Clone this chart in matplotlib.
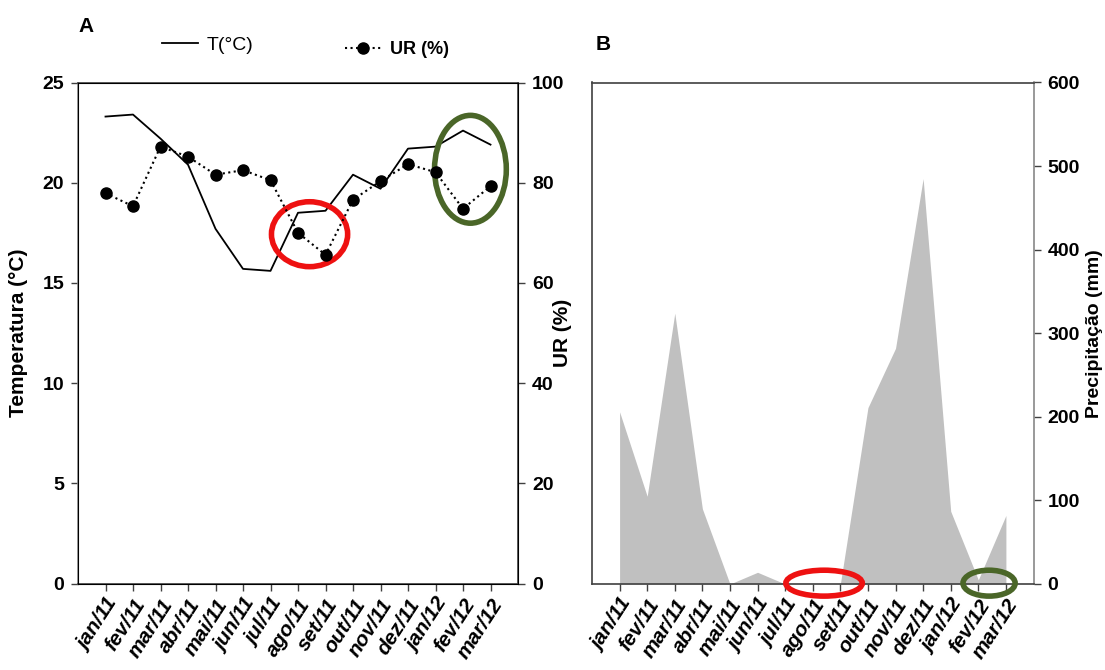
import matplotlib
matplotlib.use("Agg")
import matplotlib.pyplot as plt
from matplotlib.patches import Ellipse
from matplotlib.lines import Line2D

plt.rcParams['font.family'] = ['Liberation Sans', 'DejaVu Sans']

# dados
meses = ['jan/11', 'fev/11', 'mar/11', 'abr/11', 'mai/11', 'jun/11', 'jul/11', 'ago/11',
         'set/11', 'out/11', 'nov/11', 'dez/11', 'jan/12', 'fev/12', 'mar/12']
temperatura = [23.3, 23.4, 22.2, 20.9, 17.7, 15.7, 15.6, 18.5, 18.6, 20.4, 19.7, 21.7, 21.8, 22.6, 21.9]
umidade = [77.9, 75.3, 87.2, 85.2, 81.6, 82.5, 80.5, 70.0, 65.6, 76.6, 80.3, 83.7, 82.1, 74.8, 79.3]
precipitacao = [206, 105, 324, 90, 0, 14, 0, 0, 0, 211, 282, 485, 87, 5, 82]

# elipses de destaque: (x, y, largura, altura, cor)
destaques_A = [(7.42, 17.43, 2.77, 3.24, '#ee1111'), (13.27, 20.67, 2.61, 5.38, '#4a6628')]
destaques_B = [(7.41, 1, 2.77, 31, '#ee1111'), (13.39, 1, 1.89, 31, '#4a6628')]

x = list(range(len(meses)))
rotulo = dict(fontsize=15, fontweight='bold')

fig = plt.figure(figsize=(11.05, 6.7), dpi=100)
axA = fig.add_axes([78/1105, 86.5/670, 440/1105, 501/670])
axB = fig.add_axes([592/1105, 86/670, 441.5/1105, 501.5/670])

# ---- painel A
axA.plot(x, temperatura, color='black', lw=1.3, zorder=3)
axA.set_xlim(-1, 15)
axA.set_ylim(0, 25)
axA.set_yticks([0, 5, 10, 15, 20, 25])
axA.set_ylabel('Temperatura (°C)', **rotulo)
axA.yaxis.set_label_coords(-0.113, 0.5)

axU = axA.twinx()
axU.plot(x, umidade, color='black', ls=':', lw=1.5, marker='o', ms=8, zorder=3)
axU.set_ylim(0, 100)
axU.set_yticks([0, 20, 40, 60, 80, 100])
axU.set_ylabel('UR (%)', **rotulo)
axU.yaxis.set_label_coords(1.08, 0.5)

for (cx, cy, w, h, c) in destaques_A:
    axA.add_patch(Ellipse((cx, cy), w, h, fill=False, edgecolor=c, lw=4, zorder=5, clip_on=False))

# ---- painel B
axB.fill_between(x, precipitacao, 0, color='#c0c0c0', lw=0)
axB.set_xlim(-1, 15)
axB.set_ylim(0, 600)
axB.yaxis.tick_right()
axB.yaxis.set_label_position('right')
axB.set_yticks([0, 100, 200, 300, 400, 500, 600])
axB.set_ylabel('Precipitação (mm)', fontsize=14, fontweight='bold')
axB.yaxis.set_label_coords(1.118, 0.5)

for (cx, cy, w, h, c) in destaques_B:
    axB.add_patch(Ellipse((cx, cy), w, h, fill=False, edgecolor=c, lw=4, zorder=5, clip_on=False))

for ax in (axA, axB):
    ax.set_xticks(x)
    ax.set_xticklabels(meses, rotation=57, ha='right', rotation_mode='anchor',
                       fontsize=15, fontweight='bold', fontstyle='italic')
    for s in ax.spines.values():
        s.set_color('#404040')
        s.set_linewidth(1.2)

for ax in (axA, axU, axB):
    ax.tick_params(axis='both', direction='out', length=5, width=1, color='#404040')
    ax.tick_params(axis='y', pad=5, labelsize=14)
    for lab in ax.get_yticklabels():
        lab.set_fontweight('bold')

axA.spines['left'].set_color('#888888')
axB.spines['right'].set_color('#888888')

# legenda
h_t = Line2D([], [], color='black', lw=1.3)
h_u = Line2D([], [], color='black', ls=':', lw=1.5, marker='o', ms=8)
fig.legend([h_t], ['T(°C)'], loc='center left', bbox_to_anchor=(144/1105, 1 - 45/670),
           frameon=False, fontsize=14, handlelength=1.9, handletextpad=0.4)
fig.legend([h_u], ['UR (%)'], loc='center left', bbox_to_anchor=(329/1105, 1 - 50/670),
           frameon=False, prop={'size': 13, 'weight': 'bold'}, handlelength=2.0, handletextpad=0.5)

fig.text(78/1105, 1 - 27/670, 'A', fontsize=15, fontweight='bold', va='center')
fig.text(596/1105, 1 - 44/670, 'B', fontsize=15, fontweight='bold', va='center')

fig.savefig('out.png', dpi=100)
